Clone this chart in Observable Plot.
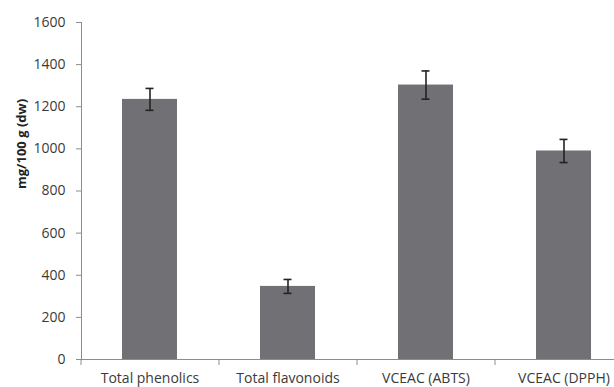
<!DOCTYPE html>
<html>
<head>
<meta charset="utf-8">
<script src="https://cdn.jsdelivr.net/npm/d3@7"></script>
<script src="https://cdn.jsdelivr.net/npm/@observablehq/plot@0.6"></script>
<style>
  html, body { margin: 0; padding: 0; background: #fff; }
  #chart svg { display: block; }
</style>
</head>
<body>
<div id="chart"></div>
<script>
const categories = ["Total phenolics", "Total flavonoids", "VCEAC (ABTS)", "VCEAC (DPPH)"];
const values = [1235, 347, 1303, 990];
const errors = [52, 33, 67, 55];
const yTicks = [0, 200, 400, 600, 800, 1000, 1200, 1400, 1600];
const yLabel = "mg/100 g (dw)";

const data = categories.map((c, i) => ({cat: c, value: values[i], err: errors[i]}));

const chart = Plot.plot({
  width: 614,
  height: 387,
  marginTop: 22,
  marginBottom: 28,
  marginLeft: 81,
  marginRight: 0,
  style: {fontFamily: "'Open Sans', sans-serif", fontSize: "14px", color: "#3a3a3a", background: "#fff"},
  x: {domain: categories, range: [81, 633], paddingInner: 0.6, paddingOuter: 0.3, align: 0.5},
  y: {domain: [0, 1600], ticks: yTicks},
  marks: [
    Plot.barY(data, {x: "cat", y: "value", fill: "#717175"}),
    Plot.ruleX(data, {x: "cat", y1: d => d.value - d.err, y2: d => d.value + d.err, stroke: "#222", strokeWidth: 1.6}),
    Plot.tickY(data, {x: "cat", y: d => d.value - d.err, stroke: "#222", strokeWidth: 1.6, insetLeft: 23.5, insetRight: 23.5}),
    Plot.tickY(data, {x: "cat", y: d => d.value + d.err, stroke: "#222", strokeWidth: 1.6, insetLeft: 23.5, insetRight: 23.5}),
    Plot.ruleY([0], {stroke: "#8c8c8c"}),
    Plot.frame({anchor: "left", stroke: "#8c8c8c"}),
    Plot.axisY({ticks: yTicks, tickFormat: d => String(d), tickSize: 5, tickPadding: 11, stroke: "#8c8c8c", label: null, fill: "#3a3a3a"}),
    Plot.axisX({tickSize: 6, dx: -69, tickFormat: () => "", stroke: "#8c8c8c", label: null}),
    Plot.axisX({tickSize: 0, tickPadding: 14, label: null, fill: "#3a3a3a"}),
    Plot.text([yLabel], {frameAnchor: "left", rotate: -90, dx: -60, dy: -2, fontWeight: "bold", fontSize: 13, fill: "#222"})
  ]
});
document.getElementById("chart").appendChild(chart);
</script>
</body>
</html>
